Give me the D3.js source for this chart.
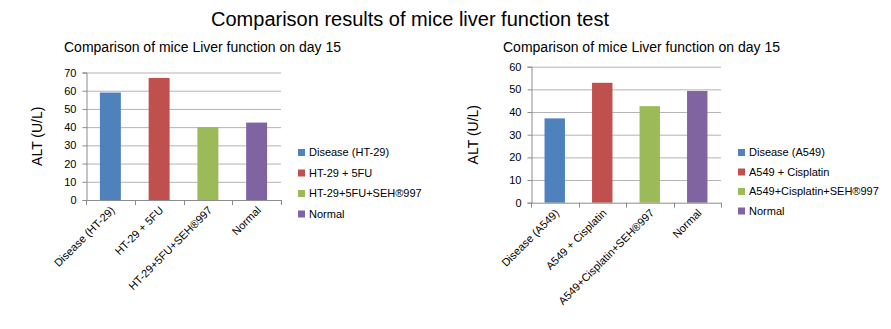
<!DOCTYPE html>
<html>
<head>
<meta charset="utf-8">
<style>
  body { margin: 0; background: #fff; }
  svg text { font-family: "Liberation Sans", Arial, sans-serif; fill: #000; }
  .grid line { stroke: #b3b3b3; stroke-width: 1; }
  .axis path, .axis line { stroke: #8c8c8c; }
</style>
</head>
<body>
<svg width="891" height="329"></svg>
<script src="https://d3js.org/d3.v7.min.js"></script>
<script>
// data
var leftCategories = ["Disease (HT-29)", "HT-29 + 5FU", "HT-29+5FU+SEH\u00ae997", "Normal"];
var leftValues = [59, 67, 40, 42.5];
var leftTicks = [0, 10, 20, 30, 40, 50, 60, 70];

var rightCategories = ["Disease (A549)", "A549 + Cisplatin", "A549+Cisplatin+SEH\u00ae997", "Normal"];
var rightValues = [37.2, 52.9, 42.6, 49.3];
var rightTicks = [0, 10, 20, 30, 40, 50, 60];

var barColors = ["#4F81BD", "#C0504D", "#9BBB59", "#8064A2"];

var svg = d3.select("svg");

svg.append("text")
  .attr("x", 410).attr("y", 26)
  .attr("text-anchor", "middle")
  .style("font-size", "20px")
  .text("Comparison results of mice liver function test");

function drawChart(opt) {
  var g = svg.append("g");

  var x = d3.scaleBand().domain(opt.categories).range([opt.left, opt.right]).paddingInner(0).paddingOuter(0);
  var y = d3.scaleLinear().domain([0, opt.max]).range([opt.bottom, opt.top]);

  g.append("text")
    .attr("x", opt.titleX).attr("y", 52)
    .style("font-size", "14px")
    .text("Comparison of mice Liver function on day 15");

  // gridlines
  g.append("g").attr("class", "grid")
    .selectAll("line").data(opt.ticks.filter(function(d){ return d > 0; }))
    .enter().append("line")
      .attr("x1", opt.left).attr("x2", opt.right)
      .attr("y1", function(d){ return y(d) + 0.5; })
      .attr("y2", function(d){ return y(d) + 0.5; });

  // bars
  var bw = x.bandwidth() * 0.43;
  g.append("g").selectAll("rect")
    .data(opt.values)
    .enter().append("rect")
      .attr("x", function(d, i){ return x(opt.categories[i]) + (x.bandwidth() - bw) / 2; })
      .attr("y", function(d){ return y(d); })
      .attr("width", bw)
      .attr("height", function(d){ return y(0) - y(d); })
      .attr("fill", function(d, i){ return barColors[i]; });

  // y axis
  var yAxis = g.append("g").attr("class", "axis")
    .attr("transform", "translate(" + (opt.left + 0.5) + ",0)")
    .call(d3.axisLeft(y).tickValues(opt.ticks).tickSize(4).tickPadding(6));
  yAxis.selectAll("text").style("font-size", "11px").style("font-family", "Liberation Sans, Arial, sans-serif");

  // x axis line with boundary ticks
  var xa = g.append("g").attr("class", "axis");
  xa.append("line")
    .attr("x1", opt.left).attr("x2", opt.right)
    .attr("y1", y(0) + 0.5).attr("y2", y(0) + 0.5);
  var bounds = opt.categories.map(function(c){ return x(c); }).concat([opt.right]);
  xa.selectAll("line.tk").data(bounds).enter().append("line")
    .attr("class", "tk")
    .attr("x1", function(d){ return Math.round(d) + 0.5; })
    .attr("x2", function(d){ return Math.round(d) + 0.5; })
    .attr("y1", y(0)).attr("y2", y(0) + 5);

  // rotated category labels
  g.append("g").selectAll("text")
    .data(opt.categories)
    .enter().append("text")
      .attr("text-anchor", "end")
      .style("font-size", "11px")
      .attr("transform", function(d){
        var cx = x(d) + x.bandwidth() / 2 + 5;
        return "translate(" + cx + "," + (y(0) + 11) + ") rotate(-45)";
      })
      .text(function(d){ return d; });

  // y label
  g.append("text")
    .attr("transform", "translate(" + opt.yLabelX + "," + ((opt.top + opt.bottom) / 2) + ") rotate(-90)")
    .attr("text-anchor", "middle")
    .style("font-size", "14px")
    .text("ALT (U/L)");

  // legend
  var lg = g.append("g").selectAll("g")
    .data(opt.categories)
    .enter().append("g")
      .attr("transform", function(d, i){ return "translate(" + opt.legendX + "," + (opt.legendY + i * opt.legendStep) + ")"; });
  lg.append("rect").attr("x", 0).attr("y", -7).attr("width", 7).attr("height", 7)
    .attr("fill", function(d, i){ return barColors[i]; });
  lg.append("text").attr("x", 11).attr("y", 0)
    .style("font-size", "11px")
    .text(function(d){ return d; });
}

drawChart({
  categories: leftCategories, values: leftValues, ticks: leftTicks, max: 70,
  left: 86, right: 281, top: 72.5, bottom: 200,
  titleX: 64, yLabelX: 42,
  legendX: 298, legendY: 156, legendStep: 20.5
});

drawChart({
  categories: rightCategories, values: rightValues, ticks: rightTicks, max: 60,
  left: 531, right: 721, top: 66.7, bottom: 202.7,
  titleX: 503, yLabelX: 478,
  legendX: 738, legendY: 156, legendStep: 19.5
});
</script>
</body>
</html>
